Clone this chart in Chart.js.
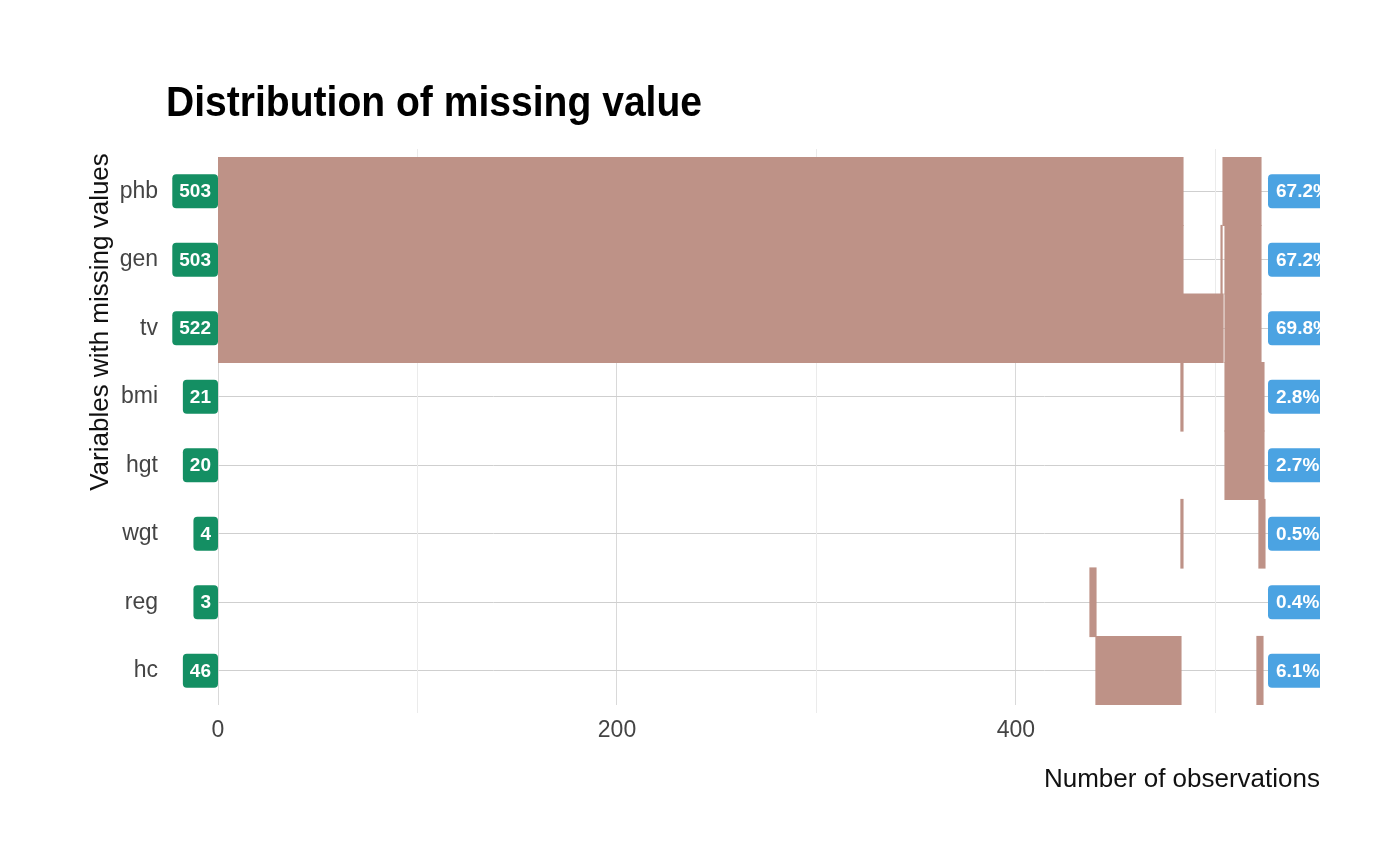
<!DOCTYPE html>
<html><head><meta charset="utf-8">
<script src="https://cdn.jsdelivr.net/npm/chart.js@4"></script>
<style>html,body{margin:0;padding:0;background:#fff}#w{width:1400px;height:866px}</style>
</head><body><div id="w"><canvas id="c"></canvas></div>
<script>
const categories = ["phb","gen","tv","bmi","hgt","wgt","reg","hc"];
const missingCounts = [503,503,522,21,20,4,3,46];
const missingPct = ["67.2%","67.2%","69.8%","2.8%","2.7%","0.5%","0.4%","6.1%"];
const seg1 = [[0,483.7],[0,483.7],[0,503.8],[482.7,483.7],[504.8,524.3],[482.7,483.7],[437.1,440.1],[440.1,482.7]];
const seg2 = [[503.8,522.8],[502.8,503.3],[504.8,522.8],[504.8,524.3],null,[521.8,524.8],null,[520.8,523.8]];
const seg3 = [null,[504.8,522.8],null,null,null,null,null,null];
const xTicks = [0,200,400];

const FONT = "'Liberation Sans Narrow','Liberation Sans',Arial,sans-serif";
const barColor = '#BE9287';
function ds(d){return {data:d,backgroundColor:barColor,borderWidth:0,inflateAmount:0.6,barPercentage:1,categoryPercentage:1,grouped:false};}

function rr(ctx,x,y,w,h,r){ctx.beginPath();ctx.moveTo(x+r,y);ctx.lineTo(x+w-r,y);ctx.quadraticCurveTo(x+w,y,x+w,y+r);ctx.lineTo(x+w,y+h-r);ctx.quadraticCurveTo(x+w,y+h,x+w-r,y+h);ctx.lineTo(x+r,y+h);ctx.quadraticCurveTo(x,y+h,x,y+h-r);ctx.lineTo(x,y+r);ctx.quadraticCurveTo(x,y,x+r,y);ctx.closePath();}

const deco = {
  id:'deco',
  beforeDatasetsDraw(chart){
    const {ctx,chartArea:a,scales:{x}}=chart;
    ctx.save();ctx.strokeStyle='#ebebeb';ctx.lineWidth=1;
    [100,300,500].forEach(v=>{const px=Math.round(x.getPixelForValue(v))+0.5;ctx.beginPath();ctx.moveTo(px,a.top-8);ctx.lineTo(px,a.bottom+8);ctx.stroke();});
    ctx.restore();
  },
  afterDraw(chart){
    const {ctx,chartArea:a,scales:{y}}=chart;
    ctx.save();
    ctx.font="bold 19px "+FONT;ctx.textBaseline='middle';
    categories.forEach((c,i)=>{
      const cy=y.getPixelForValue(i);
      const t=String(missingCounts[i]);const tw=ctx.measureText(t).width;
      const w=tw+14;ctx.fillStyle='#148F63';rr(ctx,a.left-w,cy-17,w,34,4);ctx.fill();
      ctx.fillStyle='#fff';ctx.textAlign='center';ctx.fillText(t,a.left-w/2,cy+1);
      ctx.save();ctx.beginPath();ctx.rect(0,0,a.right,866);ctx.clip();
      const p=missingPct[i];const pw=ctx.measureText(p).width+16;
      ctx.fillStyle='#4BA3E2';rr(ctx,1268,cy-17,pw,34,4);ctx.fill();
      ctx.fillStyle='#fff';ctx.textAlign='left';ctx.fillText(p,1276,cy+1);
      ctx.restore();
    });
    ctx.save();
    ctx.fillStyle='#000';ctx.font="bold 42px "+FONT;ctx.textAlign='left';ctx.textBaseline='alphabetic';
    ctx.translate(166,116);ctx.scale(0.93,1);
    ctx.fillText('Distribution of missing value',0,0);
    ctx.restore();
    ctx.font="26px "+FONT;ctx.fillStyle='#111';ctx.textAlign='right';
    ctx.fillText('Number of observations',a.right,780);
    ctx.translate(101,322);ctx.rotate(-Math.PI/2);ctx.textAlign='center';
    ctx.fillText('Variables with missing values',0,0);
    ctx.restore();
  }
};

new Chart(document.getElementById('c'),{
  type:'bar',
  data:{labels:categories,datasets:[ds(seg1),ds(seg2),ds(seg3)]},
  plugins:[deco],
  options:{
    indexAxis:'y',responsive:true,maintainAspectRatio:false,animation:false,
    layout:{padding:{top:157,bottom:101,right:80,left:0}},
    plugins:{legend:{display:false},tooltip:{enabled:false}},
    scales:{
      x:{type:'linear',min:0,max:552.4,
        afterFit(s){s.height=60;},
        afterBuildTicks(s){s.ticks=xTicks.map(v=>({value:v}));},
        grid:{color:'#d9d9d9',drawTicks:false,tickLength:8},
        border:{display:false},
        ticks:{font:{size:23,family:FONT},color:'#444',padding:12}
      },
      y:{type:'category',
        afterFit(s){s.width=218;},
        grid:{color:'#cfcfcf',drawTicks:false,offset:false},
        border:{display:false},
        ticks:{font:{size:23,family:FONT},color:'#444',padding:60}
      }
    }
  }
});
</script></body></html>
